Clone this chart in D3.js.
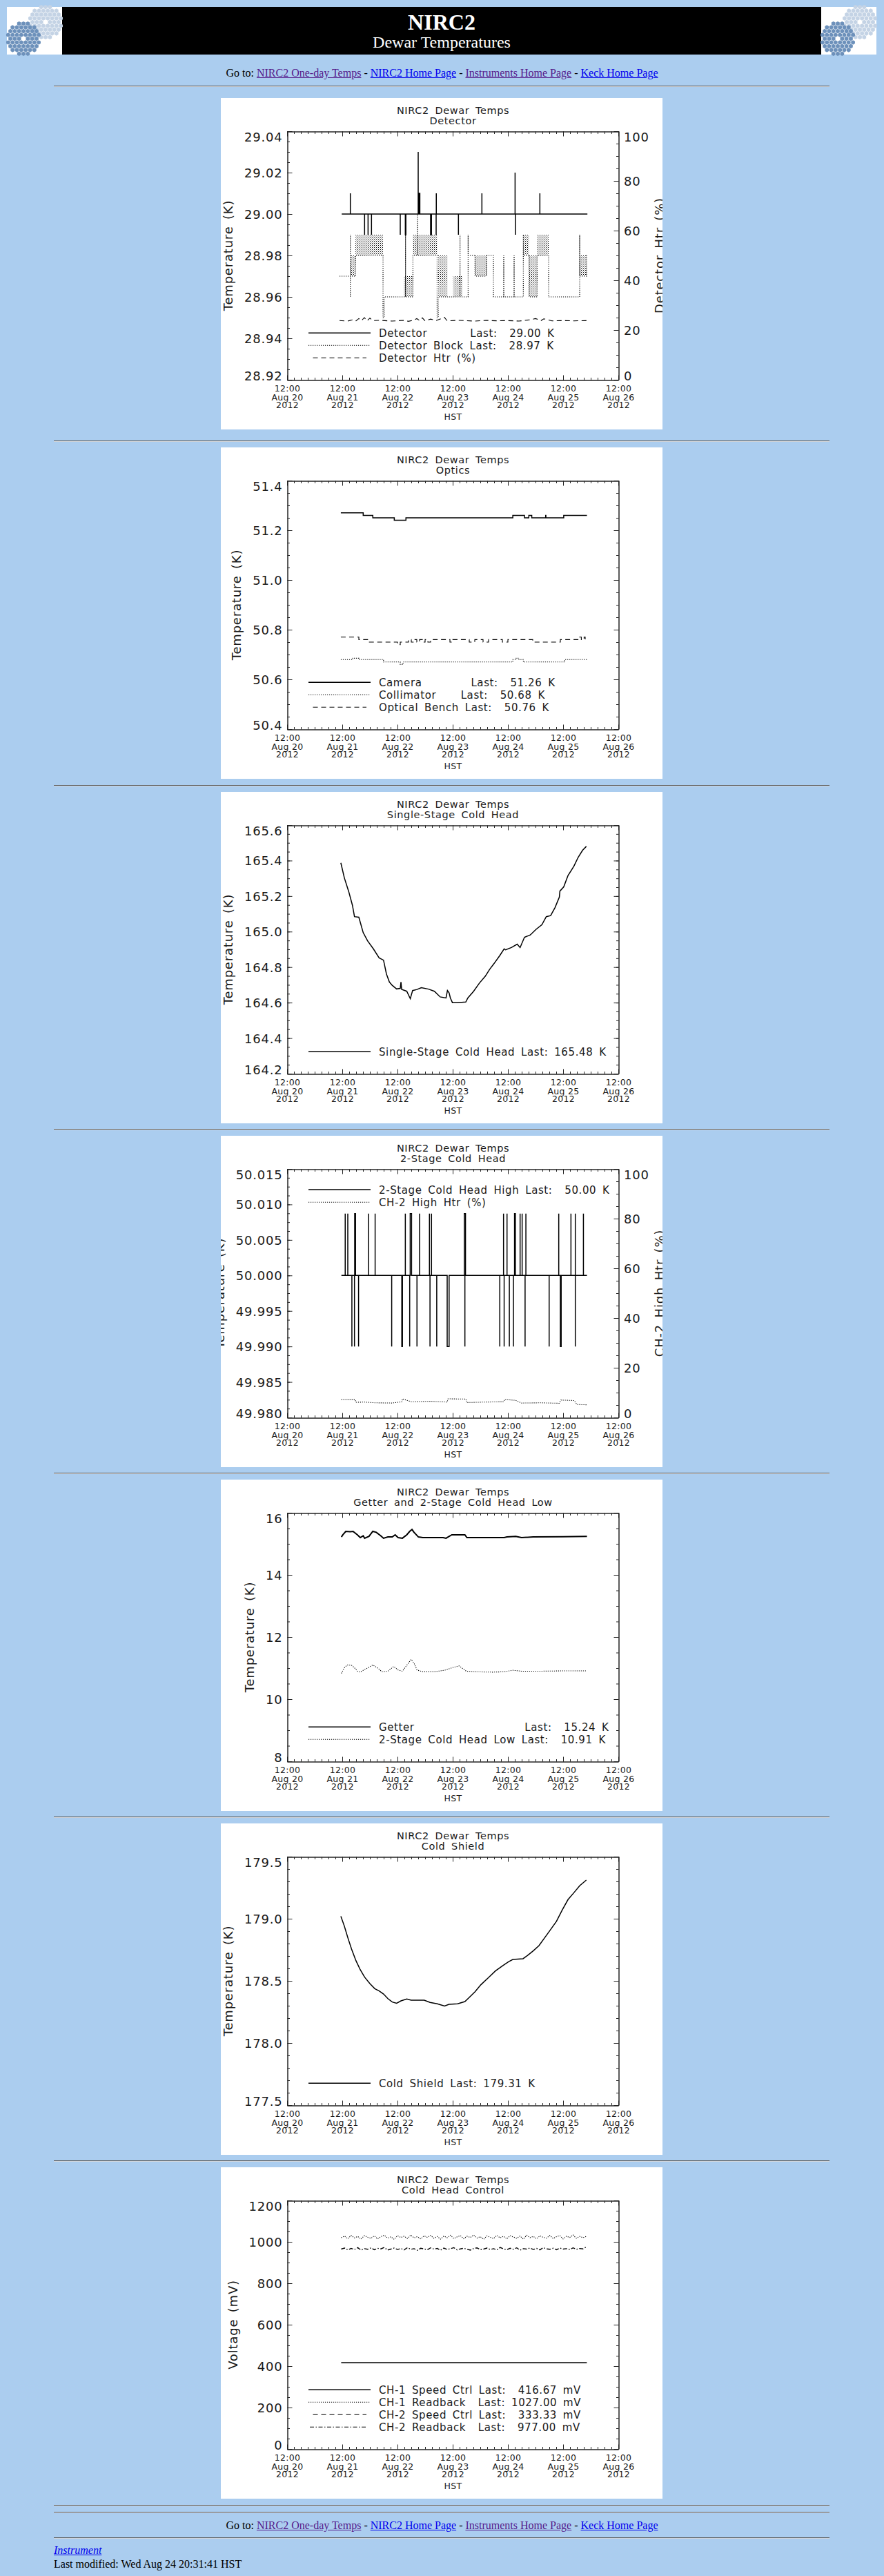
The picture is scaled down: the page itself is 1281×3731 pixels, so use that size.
<!DOCTYPE html>
<html>
<head>
<meta charset="utf-8">
<title>NIRC2 Dewar Temperatures</title>
<script src="https://cdn.jsdelivr.net/npm/d3@7"></script>
<style>
body { margin:0; background:#abcdef; }
#page { position:relative; width:1281px; height:3731px; overflow:hidden; font-family:"Times New Roman","Liberation Serif",serif; }
.t { position:absolute; white-space:nowrap; line-height:1; font-size:16px; color:#000; }
.t a { color:#0000ee; }
.t a.v { color:#551a8b; }
.hr { position:absolute; left:78px; width:1124px; height:0; border-top:1px solid #5c5c5c; border-bottom:1px solid #d2d6dc; }
svg text { fill:#1a1a1a; font-family:"DejaVu Sans",sans-serif; }
.tk { font-size:18px; letter-spacing:0.8px; }
.xl { font-size:12.5px; letter-spacing:0.3px; }
.ttl { font-size:14.5px; letter-spacing:0.6px; word-spacing:3.5px; }
.leg { font-size:15px; letter-spacing:0.6px; word-spacing:3.5px; white-space:pre; }
.axt { font-size:18px; letter-spacing:0.8px; word-spacing:3px; }
</style>
</head>
<body>
<div id="page"></div>
<script>
// ---- page text ----
var bannerTitle = "NIRC2";
var bannerSub = "Dewar Temperatures";
var navLinks = [["NIRC2 One-day Temps", true], ["NIRC2 Home Page", false], ["Instruments Home Page", true], ["Keck Home Page", false]];
var footerLink = "Instrument";
var lastModified = "Last modified: Wed Aug 24 20:31:41 HST";
var plotTitle = "NIRC2 Dewar Temps";

// ---- x axis: days after 12:00 Aug 20 2012 HST ----
var xTickTimes = ["12:00", "12:00", "12:00", "12:00", "12:00", "12:00", "12:00"];
var xTickDates = ["Aug 20", "Aug 21", "Aug 22", "Aug 23", "Aug 24", "Aug 25", "Aug 26"];
var xTickYears = ["2012", "2012", "2012", "2012", "2012", "2012", "2012"];
var xTitle = "HST";

// ---- panel 1: detector ----
var p1YTicks = ["28.92", "28.94", "28.96", "28.98", "29.00", "29.02", "29.04"];
var htrTicks = ["0", "20", "40", "60", "80", "100"];
var detectorSpikes = [[1.146, 1.146, 29.01], [1.404, 1.404, 28.99], [1.467, 1.467, 28.99], [1.529, 1.529, 28.99],
  [2.05, 2.05, 28.99], [2.142, 2.152, 28.99], [2.375, 2.375, 29.03], [2.39, 2.405, 29.01], [2.60, 2.615, 28.99],
  [2.70, 2.70, 28.99], [2.703, 2.703, 29.01], [3.104, 3.104, 28.99], [3.529, 3.529, 29.01], [4.13, 4.13, 29.02],
  [4.135, 4.135, 28.99], [4.579, 4.579, 29.01]];
var detectorBlock = [[0.95, 28.97], [1.146, 28.96], [1.146, 28.99], [1.146, 28.97], [1.24, 28.98], [1.738, 28.95],
  [1.758, 28.96], [2.146, 28.99], [2.146, 28.96], [2.279, 28.98], [2.3625, 29.00], [2.3625, 28.98], [2.717, 28.95],
  [2.7375, 28.96], [3.133, 28.99], [3.133, 28.96], [3.279, 28.99], [3.279, 28.98], [3.404, 28.97], [3.6125, 28.98],
  [3.7375, 28.96], [3.925, 28.98], [3.925, 28.96], [4.1125, 28.98], [4.1125, 28.96], [4.279, 28.99], [4.279, 28.98],
  [4.383, 28.96], [4.529, 28.98], [4.7375, 28.96], [5.3, 28.99], [5.3, 28.97], [5.425, 28.98], [5.44, 28.98]];
var detectorBlockBands = [[1.146, 1.24, 28.97, 28.98], [1.24, 1.738, 28.98, 28.99], [2.1125, 2.279, 28.96, 28.97],
  [2.279, 2.717, 28.98, 28.99], [2.7375, 2.904, 28.96, 28.98], [3.008, 3.175, 28.96, 28.97], [3.404, 3.6125, 28.97, 28.98],
  [4.279, 4.383, 28.98, 28.99], [4.383, 4.529, 28.96, 28.98], [4.529, 4.7375, 28.98, 28.99], [5.31, 5.425, 28.97, 28.98]];
var detectorHtr = [[0.95, 23.8], [1.1, 23.6], [1.2, 24.2], [1.25, 23.7], [1.3, 24.6], [1.35, 23.8], [1.4, 25.0], [1.45, 23.7],
  [1.5, 24.8], [1.55, 23.8], [1.7, 23.9], [1.9, 23.6], [2.1, 23.9], [2.2, 23.5], [2.3, 24.0], [2.35, 24.6], [2.4, 23.8],
  [2.45, 24.9], [2.5, 23.7], [2.6, 24.4], [2.7, 23.8], [2.85, 25.1], [2.9, 23.7], [3.1, 23.9], [3.4, 23.6], [3.6, 23.9],
  [3.8, 23.7], [4.0, 23.8], [4.2, 23.6], [4.4, 24.1], [4.5, 24.6], [4.6, 23.8], [4.65, 24.5], [4.8, 23.7], [5.0, 23.8],
  [5.2, 23.7], [5.43, 23.8]];
var p1Legend = ["Detector       Last:  29.00 K", "Detector Block Last:  28.97 K", "Detector Htr (%)"];

// ---- panel 2: optics ----
var p2YTicks = ["50.4", "50.6", "50.8", "51.0", "51.2", "51.4"];
var camera = [[0.974, 51.27], [1.379, 51.26], [1.553, 51.25], [1.942, 51.24], [2.153, 51.25], [4.089, 51.26], [4.3, 51.25],
  [4.379, 51.26], [4.432, 51.25], [4.684, 51.26], [4.688, 51.25], [5.011, 51.26], [5.432, 51.26]];
var collimator = [[0.974, 50.68], [1.19, 50.685], [1.3, 50.68], [1.747, 50.67], [2.05, 50.66], [2.1, 50.67], [4.089, 50.68],
  [4.15, 50.685], [4.2, 50.68], [4.28, 50.67], [5.03, 50.68], [5.44, 50.68]];
var opticalBench = [[0.974, 50.77], [1.3, 50.76], [1.49, 50.75], [2.0, 50.74], [2.05, 50.75], [2.2, 50.76], [2.25, 50.75],
  [2.3, 50.76], [2.35, 50.75], [2.4, 50.76], [2.45, 50.75], [2.5, 50.76], [2.55, 50.75], [2.6, 50.76], [2.95, 50.75],
  [3.0, 50.76], [3.3, 50.75], [3.4, 50.76], [3.55, 50.75], [3.65, 50.76], [3.9, 50.75], [4.0, 50.76], [4.45, 50.75],
  [4.95, 50.76], [5.3, 50.77], [5.33, 50.76], [5.38, 50.77], [5.4, 50.76], [5.41, 50.76]];
var p2Legend = ["Camera        Last:  51.26 K", "Collimator    Last:  50.68 K", "Optical Bench Last:  50.76 K"];

// ---- panel 3: single-stage cold head ----
var p3YTicks = ["164.2", "164.4", "164.6", "164.8", "165.0", "165.2", "165.4", "165.6"];
var singleStage = [[0.974, 165.387], [1.037, 165.303], [1.116, 165.226], [1.184, 165.148], [1.221, 165.084], [1.3, 165.081],
  [1.379, 164.994], [1.458, 164.948], [1.563, 164.903], [1.668, 164.852], [1.747, 164.839], [1.8, 164.761], [1.853, 164.716],
  [1.905, 164.697], [1.984, 164.677], [2.05, 164.68], [2.063, 164.716], [2.075, 164.675], [2.168, 164.664], [2.232, 164.622],
  [2.274, 164.668], [2.353, 164.674], [2.432, 164.684], [2.563, 164.676], [2.668, 164.664], [2.774, 164.632], [2.879, 164.626],
  [2.905, 164.668], [2.935, 164.655], [2.958, 164.626], [2.995, 164.6], [3.089, 164.6], [3.237, 164.603], [3.274, 164.626],
  [3.379, 164.664], [3.484, 164.71], [3.589, 164.748], [3.668, 164.787], [3.747, 164.819], [3.853, 164.865], [3.932, 164.903],
  [3.958, 164.897], [4.063, 164.91], [4.168, 164.929], [4.221, 164.91], [4.3, 164.968], [4.405, 164.981], [4.511, 165.013],
  [4.616, 165.039], [4.695, 165.084], [4.774, 165.09], [4.853, 165.135], [4.932, 165.194], [4.942, 165.228], [5.011, 165.252],
  [5.089, 165.316], [5.195, 165.368], [5.274, 165.419], [5.353, 165.458], [5.421, 165.48]];
var p3Legend = ["Single-Stage Cold Head Last: 165.48 K"];

// ---- panel 4: 2-stage cold head ----
var p4YTicks = ["49.980", "49.985", "49.990", "49.995", "50.000", "50.005", "50.010", "50.015"];
var twoStageSpikes = [[1.053, 1.053, 50.0087], [1.1, 1.1, 50.0087], [1.225, 1.24, 50.0087], [1.474, 1.474, 50.0087],
  [1.595, 1.595, 50.0087], [2.142, 2.142, 50.0087], [2.23, 2.255, 50.0087], [2.4, 2.4, 50.0087], [2.579, 2.579, 50.0087],
  [2.616, 2.616, 50.0087], [3.21, 3.232, 50.0087], [3.921, 3.921, 50.0087], [3.984, 3.984, 50.0087], [4.12, 4.135, 50.0087],
  [4.221, 4.221, 50.0087], [4.258, 4.258, 50.0087], [4.326, 4.326, 50.0087], [4.921, 4.921, 50.0087], [5.142, 5.142, 50.0087],
  [5.221, 5.221, 50.0087], [5.368, 5.368, 50.0087],
  [1.174, 1.174, 49.99], [1.221, 1.221, 49.99], [1.295, 1.295, 49.99], [1.895, 1.895, 49.99], [2.078, 2.09, 49.99],
  [2.221, 2.221, 49.99], [2.353, 2.353, 49.99], [2.589, 2.589, 49.99], [2.711, 2.711, 49.99], [2.9, 2.935, 49.99],
  [3.221, 3.221, 49.99], [3.853, 3.853, 49.99], [3.932, 3.932, 49.99], [4.026, 4.026, 49.99], [4.1, 4.1, 49.99],
  [4.311, 4.311, 49.99], [4.747, 4.747, 49.99], [4.95, 4.965, 49.99], [5.221, 5.221, 49.99]];
var ch2HighHtr = [[0.984, 7.2], [1.232, 7.2], [1.247, 6.1], [1.4, 6.2], [1.6, 5.9], [1.9, 5.8], [2.08, 6.3], [2.09, 7.5],
  [2.25, 6.3], [2.6, 6.5], [2.9, 6.2], [2.916, 7.5], [3.24, 7.4], [3.25, 6.0], [3.6, 6.2], [3.921, 6.3], [3.94, 7.2],
  [4.14, 6.9], [4.25, 5.8], [4.6, 5.9], [4.93, 5.7], [4.96, 7.0], [5.2, 6.8], [5.25, 5.2], [5.43, 5.1]];
var p4Legend = ["2-Stage Cold Head High Last:  50.00 K", "CH-2 High Htr (%)"];

// ---- panel 5: getter and 2-stage low ----
var p5YTicks = ["8", "10", "12", "14", "16"];
var getter = [[0.984, 15.22], [1.011, 15.29], [1.063, 15.40], [1.142, 15.39], [1.195, 15.40], [1.274, 15.29], [1.326, 15.20],
  [1.379, 15.26], [1.405, 15.18], [1.484, 15.24], [1.553, 15.40], [1.616, 15.37], [1.695, 15.26], [1.747, 15.18],
  [1.826, 15.22], [1.905, 15.22], [1.958, 15.29], [2.011, 15.20], [2.089, 15.18], [2.168, 15.29], [2.221, 15.40],
  [2.263, 15.46], [2.3, 15.37], [2.379, 15.22], [2.458, 15.20], [2.826, 15.20], [2.879, 15.18], [2.984, 15.29],
  [3.221, 15.29], [3.258, 15.20], [3.932, 15.20], [3.984, 15.22], [4.142, 15.24], [4.247, 15.20], [4.458, 15.22],
  [4.984, 15.23], [5.432, 15.24]];
var twoStageLow = [[0.984, 10.83], [1.037, 11.01], [1.089, 11.10], [1.168, 11.09], [1.221, 11.01], [1.274, 10.90],
  [1.326, 10.87], [1.379, 10.93], [1.458, 11.00], [1.553, 11.10], [1.642, 11.00], [1.721, 10.88], [1.826, 10.90],
  [1.932, 11.05], [2.011, 10.94], [2.089, 10.90], [2.168, 11.09], [2.247, 11.28], [2.3, 11.16], [2.353, 10.94],
  [2.458, 10.88], [2.668, 10.88], [2.879, 10.94], [2.984, 11.01], [3.116, 11.07], [3.247, 10.90], [3.405, 10.88],
  [3.721, 10.87], [3.932, 10.88], [4.089, 10.93], [4.247, 10.90], [4.563, 10.90], [4.984, 10.91], [5.432, 10.91]];
var p5Legend = ["Getter                  Last:  15.24 K", "2-Stage Cold Head Low Last:  10.91 K"];

// ---- panel 6: cold shield ----
var p6YTicks = ["177.5", "178.0", "178.5", "179.0", "179.5"];
var coldShield = [[0.974, 179.019], [1.037, 178.941], [1.1, 178.848], [1.168, 178.756], [1.247, 178.663], [1.326, 178.589],
  [1.405, 178.53], [1.5, 178.478], [1.589, 178.437], [1.668, 178.419], [1.747, 178.394], [1.826, 178.357], [1.905, 178.33],
  [1.984, 178.32], [2.063, 178.339], [2.168, 178.354], [2.247, 178.344], [2.353, 178.344], [2.484, 178.344], [2.589, 178.326],
  [2.721, 178.315], [2.853, 178.298], [2.932, 178.311], [3.089, 178.315], [3.221, 178.333], [3.3, 178.367], [3.405, 178.413],
  [3.511, 178.469], [3.642, 178.524], [3.774, 178.58], [3.905, 178.622], [4.011, 178.654], [4.089, 178.672], [4.274, 178.678],
  [4.353, 178.704], [4.458, 178.741], [4.563, 178.783], [4.668, 178.848], [4.774, 178.913], [4.879, 178.978], [4.984, 179.07],
  [5.089, 179.154], [5.195, 179.209], [5.3, 179.265], [5.421, 179.311]];
var p6Legend = ["Cold Shield Last: 179.31 K"];

// ---- panel 7: cold head control ----
var p7YTicks = ["0", "200", "400", "600", "800", "1000", "1200"];
var ch1Speed = [[0.98, 416.67], [5.43, 416.67]];
var readT = [0.98, 1.04, 1.10, 1.16, 1.22, 1.28, 1.34, 1.40, 1.46, 1.52, 1.58, 1.64, 1.70, 1.76, 1.82, 1.88, 1.94, 2.00,
  2.06, 2.12, 2.18, 2.24, 2.30, 2.36, 2.42, 2.48, 2.54, 2.60, 2.66, 2.72, 2.78, 2.84, 2.90, 2.96, 3.02, 3.08, 3.14, 3.20,
  3.26, 3.32, 3.38, 3.44, 3.50, 3.56, 3.62, 3.68, 3.74, 3.80, 3.86, 3.92, 3.98, 4.04, 4.10, 4.16, 4.22, 4.28, 4.34, 4.40,
  4.46, 4.52, 4.58, 4.64, 4.70, 4.76, 4.82, 4.88, 4.94, 5.00, 5.06, 5.12, 5.18, 5.24, 5.30, 5.36, 5.43];
var ch1Readback = [1020, 1028, 1015, 1031, 1019, 1026, 1013, 1030, 1022, 1017, 1029, 1014, 1025, 1032, 1018, 1024, 1012, 1030,
  1021, 1027, 1016, 1033, 1019, 1025, 1014, 1029, 1022, 1031, 1017, 1026, 1013, 1028, 1020, 1032, 1016, 1024, 1030, 1015,
  1027, 1021, 1033, 1018, 1025, 1012, 1029, 1022, 1016, 1031, 1019, 1027, 1014, 1030, 1023, 1017, 1028, 1013, 1032, 1020,
  1026, 1015, 1029, 1022, 1018, 1031, 1016, 1025, 1030, 1014, 1027, 1021, 1033, 1017, 1026, 1020, 1027];
var ch2Readback = [965, 970, 961, 968, 963, 972, 960, 967, 964, 971, 962, 969, 966, 973, 960, 965, 970, 963, 968, 961,
  972, 964, 967, 959, 969, 966, 962, 971, 965, 968, 960, 970, 963, 967, 972, 961, 966, 969, 964, 960, 968, 971, 962, 965,
  970, 963, 967, 961, 973, 966, 962, 969, 964, 971, 960, 967, 965, 970, 963, 968, 961, 972, 966, 964, 969, 962, 970, 965,
  967, 963, 971, 964, 968, 966, 977];
var p7Legend = ["CH-1 Speed Ctrl Last:  416.67 mV", "CH-1 Readback  Last: 1027.00 mV", "CH-2 Speed Ctrl Last:  333.33 mV", "CH-2 Readback  Last:  977.00 mV"];

// ---- layout ----
var panelTops = [142, 648, 1147, 1645, 2143, 2641, 3139];
var hrTops = [124, 638, 1137, 1635, 2133, 2631, 3129, 3628, 3638, 3675];
var PX0 = 96, PX1 = 576, PY0 = 48, PY1 = 408;
var dashes = { solid: null, dotted: "1.2,1.8", dashed: "7,5", dashdot: "6,2.5,1.5,2.5" };

function spikePts(t0, t1, base, spikes) {
  var pts = [[t0, base]];
  spikes.slice().sort(function(a, b) { return a[0] - b[0]; }).forEach(function(s) {
    pts.push([s[0], base], [s[0], s[2]], [s[1], s[2]], [s[1], base]);
  });
  pts.push([t1, base]);
  return pts;
}

var panels = [
  { sub: "Detector", yTicks: p1YTicks, yMinor: 0.005, yTitle: "Temperature (K)",
    right: { ticks: htrTicks, minor: 5, title: "Detector Htr (%)" },
    series: [
      { pts: spikePts(0.99, 5.44, 29.00, detectorSpikes), style: "solid" },
      { pts: detectorBlock, style: "dotted", step: true },
      { pts: detectorHtr, style: "dashed", axis: "R" } ],
    bands: detectorBlockBands,
    legend: { top: false, rows: p1Legend, styles: ["solid", "dotted", "dashed"] } },
  { sub: "Optics", yTicks: p2YTicks, yMinor: 0.05, yTitle: "Temperature (K)",
    series: [
      { pts: camera, style: "solid", step: true },
      { pts: collimator, style: "dotted", step: true },
      { pts: opticalBench, style: "dashed", step: true } ],
    legend: { top: false, rows: p2Legend, styles: ["solid", "dotted", "dashed"] } },
  { sub: "Single-Stage Cold Head", yTicks: p3YTicks, yMinor: 0.05, yTitle: "Temperature (K)",
    series: [ { pts: singleStage, style: "solid" } ],
    legend: { top: false, rows: p3Legend, styles: ["solid"] } },
  { sub: "2-Stage Cold Head", yTicks: p4YTicks, yMinor: 0.00125, yTitle: "Temperature (K)",
    right: { ticks: htrTicks, minor: 5, title: "CH-2 High Htr (%)" },
    series: [
      { pts: spikePts(0.984, 5.432, 50.0, twoStageSpikes), style: "solid" },
      { pts: ch2HighHtr, style: "dotted", axis: "R" } ],
    legend: { top: true, rows: p4Legend, styles: ["solid", "dotted"] } },
  { sub: "Getter and 2-Stage Cold Head Low", yTicks: p5YTicks, yMinor: 0.5, yTitle: "Temperature (K)",
    series: [
      { pts: getter, style: "solid", width: 2 },
      { pts: twoStageLow, style: "dotted" } ],
    legend: { top: false, rows: p5Legend, styles: ["solid", "dotted"] } },
  { sub: "Cold Shield", yTicks: p6YTicks, yMinor: 0.1, yTitle: "Temperature (K)",
    series: [ { pts: coldShield, style: "solid" } ],
    legend: { top: false, rows: p6Legend, styles: ["solid"] } },
  { sub: "Cold Head Control", yTicks: p7YTicks, yMinor: 50, yTitle: "Voltage (mV)",
    series: [
      { pts: ch1Speed, style: "solid" },
      { pts: readT.map(function(t, i) { return [t, ch1Readback[i]]; }), style: "dotted" },
      { pts: readT.map(function(t, i) { return [t, ch2Readback[i]]; }), style: "dashdot", width: 1.4 } ],
    legend: { top: false, rows: p7Legend, styles: ["solid", "dotted", "dashed", "dashdot"] } }
];

var page = d3.select("#page");

// ---- banner ----
function drawLogo(g) {
  g.append("rect").attr("width", 80).attr("height", 69).attr("fill", "#fff");
  var r = 3.3, w = Math.sqrt(3) * r;
  [[56, 22, "#c4d3e5", 23], [24, 46, "#6d91bb", 23]].forEach(function(c) {
    var cells = [];
    for (var j = -8; j <= 8; j++) {
      for (var i = -8; i <= 8; i++) {
        var cx = c[0] + (i + (j & 1) * 0.5) * (w + 0.6), cy = c[1] + j * (1.5 * r + 0.5);
        var d = Math.hypot(cx - c[0], cy - c[1]);
        if (d <= c[3] && d > 4.5) cells.push([cx, cy]);
      }
    }
    g.selectAll(null).data(cells).enter().append("polygon")
      .attr("points", function(p) {
        return d3.range(6).map(function(k) {
          var a = Math.PI / 3 * k + Math.PI / 6;
          return (p[0] + r * Math.cos(a)).toFixed(2) + "," + (p[1] + r * Math.sin(a)).toFixed(2);
        }).join(" ");
      })
      .attr("fill", c[2]);
  });
}

var banner = page.append("svg").attr("width", 1281).attr("height", 90)
  .style("position", "absolute").style("left", "0px").style("top", "0px");
banner.append("rect").attr("x", 90).attr("y", 10).attr("width", 1100).attr("height", 69).attr("fill", "#000");
drawLogo(banner.append("g").attr("transform", "translate(10,10)"));
drawLogo(banner.append("g").attr("transform", "translate(1190,10)"));
banner.append("text").attr("x", 640).attr("y", 43).attr("text-anchor", "middle")
  .style("font", "bold 32px 'Times New Roman','Liberation Serif',serif").style("fill", "#fff").text(bannerTitle);
banner.append("text").attr("x", 640).attr("y", 69).attr("text-anchor", "middle")
  .style("font", "24px 'Times New Roman','Liberation Serif',serif").style("fill", "#fff").text(bannerSub);

// ---- nav lines, rules, footer ----
var navHtml = "Go to: " + navLinks.map(function(l) {
  return "<a href=\"#\"" + (l[1] ? " class=\"v\"" : "") + ">" + l[0] + "</a>";
}).join(" - ");
[98.3, 3649.9].forEach(function(tp) {
  page.append("div").attr("class", "t").style("left", "0px").style("width", "1281px")
    .style("text-align", "center").style("top", tp + "px").html(navHtml);
});
hrTops.forEach(function(tp) {
  page.append("div").attr("class", "hr").style("top", tp + "px");
});
page.append("div").attr("class", "t").style("left", "78px").style("top", "3685.9px")
  .html("<a href=\"#\"><i>" + footerLink + "</i></a>");
page.append("div").attr("class", "t").style("left", "78px").style("top", "3705.6px").text(lastModified);

// ---- charts ----
var CAP = 13;
function yLabels(g, scale, vals, labels, xpos, anchor) {
  var dom = scale.domain();
  var txt = g.selectAll(null).data(vals).enter().append("text")
    .attr("class", "tk").attr("x", xpos).attr("text-anchor", anchor)
    .attr("y", function(v) {
      var yy = scale(v) + 0.5;
      if (Math.abs(v - dom[1]) < 1e-9) return yy + CAP + 1;
      if (Math.abs(v - dom[0]) < 1e-9) return yy;
      return yy + CAP / 2;
    })
    .text(function(d, i) { return labels[i]; });
  return d3.max(txt.nodes(), function(n) { return n.getComputedTextLength(); });
}

panels.forEach(function(p, pi) {
  var svg = page.append("svg").attr("width", 640).attr("height", 480)
    .style("position", "absolute").style("left", "320px").style("top", panelTops[pi] + "px");
  svg.append("rect").attr("width", 640).attr("height", 480).attr("fill", "#fff");

  var yVals = p.yTicks.map(Number);
  var x = d3.scaleLinear().domain([0, 6]).range([PX0, PX1]);
  var y = d3.scaleLinear().domain([yVals[0], yVals[yVals.length - 1]]).range([PY1, PY0]);
  var yR = p.right ? d3.scaleLinear().domain([0, 100]).range([PY1, PY0]) : null;

  if (pi === 0) {
    // texture for stretches where the block sensor flickers between two readings
    var pat = svg.append("defs").append("pattern").attr("id", "dots")
      .attr("patternUnits", "userSpaceOnUse").attr("width", 3).attr("height", 3);
    pat.append("rect").attr("width", 1).attr("height", 1).attr("fill", "#000");
    pat.append("rect").attr("x", 1.5).attr("y", 1.5).attr("width", 1).attr("height", 1).attr("fill", "#333");
  }

  // axes (ticks point inward on all four sides)
  var xMaj = d3.range(0, 7), xMin = d3.range(0, 6.01, 0.125);
  var yMin = d3.range(yVals[0], yVals[yVals.length - 1] + p.yMinor / 2, p.yMinor);
  var ax = svg.append("g").attr("fill", "none");
  function put(axis, tr) {
    var g = ax.append("g").attr("transform", tr).call(axis.tickFormat("").tickSizeOuter(0));
    g.select(".domain").attr("stroke", "#222");
    g.selectAll(".tick line").attr("stroke", "#222");
  }
  put(d3.axisBottom(x).tickValues(xMaj).tickSize(-7), "translate(0," + (PY1 + 0.5) + ")");
  put(d3.axisBottom(x).tickValues(xMin).tickSize(-3.5), "translate(0," + (PY1 + 0.5) + ")");
  put(d3.axisTop(x).tickValues(xMaj).tickSize(-7), "translate(0," + (PY0 + 0.5) + ")");
  put(d3.axisTop(x).tickValues(xMin).tickSize(-3.5), "translate(0," + (PY0 + 0.5) + ")");
  put(d3.axisLeft(y).tickValues(yVals).tickSize(-7), "translate(" + (PX0 + 0.5) + ",0)");
  put(d3.axisLeft(y).tickValues(yMin).tickSize(-3.5), "translate(" + (PX0 + 0.5) + ",0)");
  var rs = yR || y;
  var rMaj = p.right ? p.right.ticks.map(Number) : yVals;
  var rMin = p.right ? d3.range(0, 100.1, p.right.minor) : yMin;
  put(d3.axisRight(rs).tickValues(rMaj).tickSize(-7), "translate(" + (PX1 + 0.5) + ",0)");
  put(d3.axisRight(rs).tickValues(rMin).tickSize(-3.5), "translate(" + (PX1 + 0.5) + ",0)");

  // titles
  svg.append("text").attr("class", "ttl").attr("x", 336.5).attr("y", 22.8).attr("text-anchor", "middle").text(plotTitle);
  svg.append("text").attr("class", "ttl").attr("x", 336.5).attr("y", 37.8).attr("text-anchor", "middle").text(p.sub);

  // x labels
  var xl = svg.append("g");
  xMaj.forEach(function(d, i) {
    [xTickTimes[i], xTickDates[i], xTickYears[i]].forEach(function(s, k) {
      xl.append("text").attr("class", "xl").attr("x", x(d) + 0.5).attr("y", [425.3, 437.9, 449.3][k])
        .attr("text-anchor", "middle").text(s);
    });
  });
  svg.append("text").attr("class", "xl").attr("x", 336.5).attr("y", 465.5).attr("text-anchor", "middle").text(xTitle);

  // y labels and titles
  var lw = yLabels(svg.append("g"), y, yVals, p.yTicks, 89.5, "end");
  var lb = 89.5 - lw - 16.8;
  svg.append("text").attr("class", "axt").attr("text-anchor", "middle")
    .attr("transform", "translate(" + lb + "," + ((PY0 + PY1) / 2) + ") rotate(-90)").text(p.yTitle);
  if (p.right) {
    var rw = yLabels(svg.append("g"), yR, rMaj, p.right.ticks, 584, "start");
    var rb = 584 + rw + 21;
    svg.append("text").attr("class", "axt").attr("text-anchor", "middle")
      .attr("transform", "translate(" + rb + "," + ((PY0 + PY1) / 2) + ") rotate(-90)").text(p.right.title);
  }

  // data
  var dg = svg.append("g").attr("fill", "none");
  if (p.bands) {
    dg.selectAll(null).data(p.bands).enter().append("rect")
      .attr("x", function(b) { return x(b[0]); })
      .attr("width", function(b) { return x(b[1]) - x(b[0]); })
      .attr("y", function(b) { return y(b[3]); })
      .attr("height", function(b) { return y(b[2]) - y(b[3]); })
      .attr("fill", "url(#dots)");
  }
  p.series.forEach(function(s) {
    var ys = s.axis === "R" ? yR : y;
    var line = d3.line().x(function(d) { return x(d[0]); }).y(function(d) { return ys(d[1]); })
      .curve(s.step ? d3.curveStepAfter : d3.curveLinear);
    dg.append("path").attr("d", line(s.pts)).attr("stroke", "#000")
      .attr("stroke-width", s.width || (s.style === "solid" ? 1.5 : 1.1))
      .attr("stroke-dasharray", dashes[s.style]);
  });

  // legend
  var n = p.legend.rows.length;
  p.legend.rows.forEach(function(label, i) {
    var cy = p.legend.top ? 78 + i * 18.3 : 376.3 - (n - 1 - i) * 18;
    var st = p.legend.styles[i];
    var x0 = st === "dashed" ? 133.5 : (st === "dashdot" ? 129 : 127);
    var x1 = st === "dashed" || st === "dashdot" ? 211 : 217;
    svg.append("line").attr("x1", x0).attr("x2", x1).attr("y1", cy).attr("y2", cy)
      .attr("stroke", "#000").attr("stroke-width", st === "solid" ? 1.5 : 1.1)
      .attr("stroke-dasharray", dashes[st]);
    svg.append("text").attr("class", "leg").attr("x", 229).attr("y", cy + 5.5).text(label);
  });
});
</script>
</body>
</html>
